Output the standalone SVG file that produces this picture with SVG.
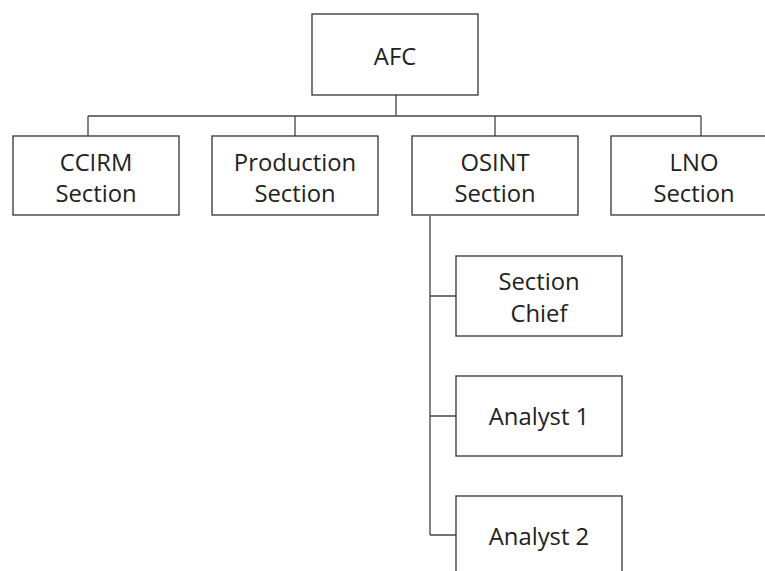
<svg xmlns="http://www.w3.org/2000/svg" width="765" height="571" viewBox="0 0 765 571">
<style>
.box{fill:#fff;stroke:#333;stroke-width:1.3}
.ln{fill:none;stroke:#444;stroke-width:1.3}
text{font-family:"Open Sans","Noto Sans","Liberation Sans",sans-serif;font-size:23.8px;fill:#222;text-anchor:middle}
</style>
<rect width="765" height="571" fill="#fff"/>
<g id="connectors">
<path class="ln" d="M396,95V116M88,116H701M88,116V136M295,116V136M495,116V136M701,116V136"/>
<path class="ln" d="M430,216V535M430,296H456M430,416H456M430,535H456"/>
</g>
<g id="afc"><rect class="box" x="312" y="14" width="166" height="81"/><text x="395" y="65">AFC</text></g>
<g id="ccirm"><rect class="box" x="13" y="136" width="166" height="79"/><text x="96" y="171">CCIRM</text><text x="96" y="202">Section</text></g>
<g id="production"><rect class="box" x="212" y="136" width="166" height="79"/><text x="295" y="171">Production</text><text x="295" y="202">Section</text></g>
<g id="osint"><rect class="box" x="412" y="136" width="166" height="79"/><text x="495" y="171">OSINT</text><text x="495" y="202">Section</text></g>
<g id="lno"><rect class="box" x="611" y="136" width="170" height="79"/><text x="694" y="171">LNO</text><text x="694" y="202">Section</text></g>
<g id="chief"><rect class="box" x="456" y="256" width="166" height="80"/><text x="539" y="290">Section</text><text x="539" y="322">Chief</text></g>
<g id="analyst1"><rect class="box" x="456" y="376" width="166" height="80"/><text x="539" y="425">Analyst 1</text></g>
<g id="analyst2"><rect class="box" x="456" y="496" width="166" height="90"/><text x="539" y="545">Analyst 2</text></g>
</svg>
